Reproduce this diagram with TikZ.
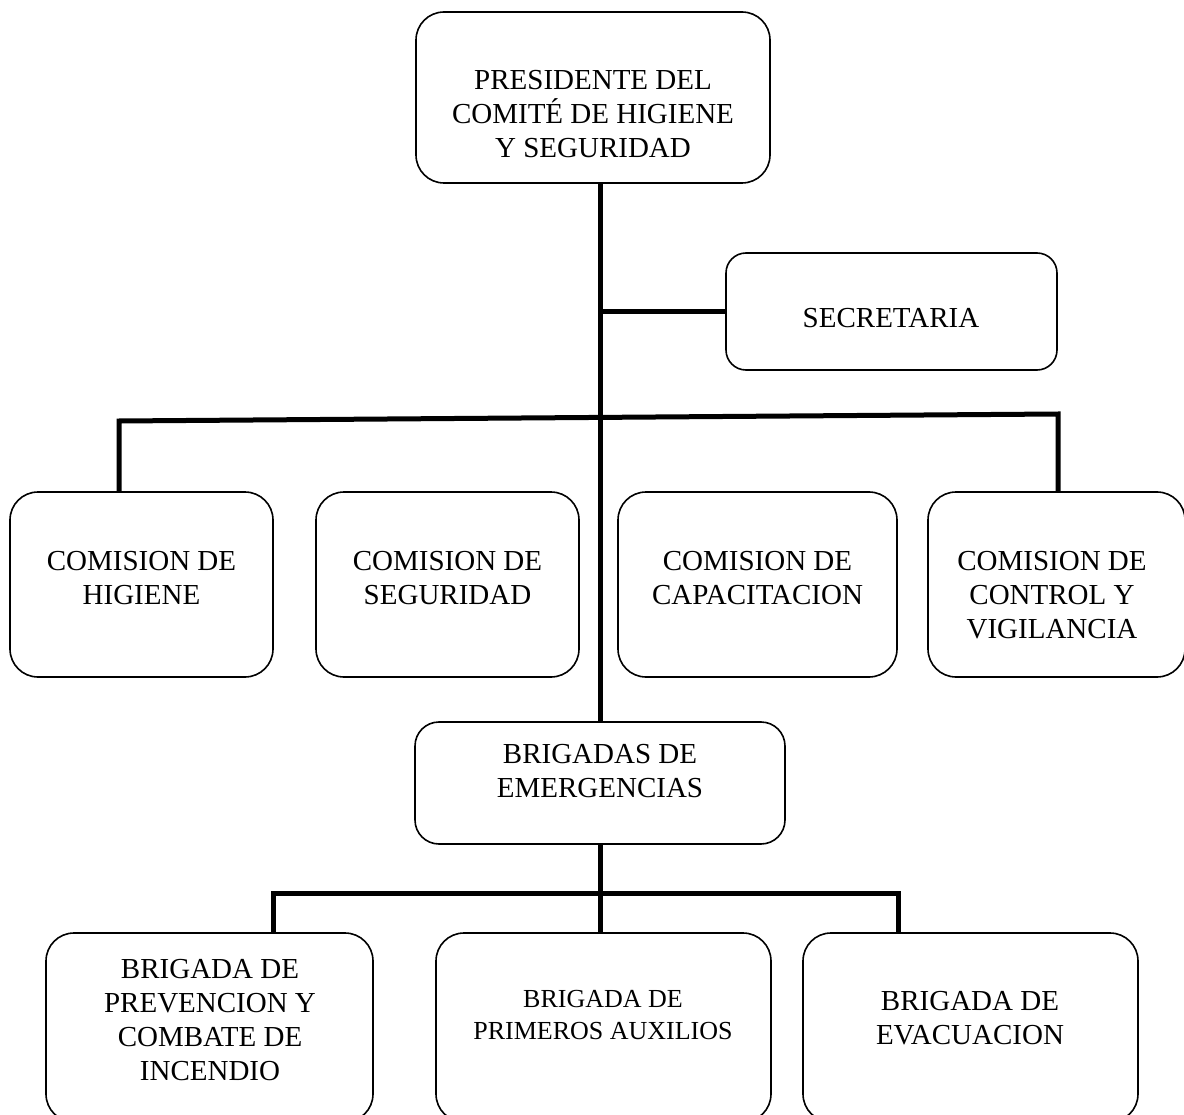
\documentclass[tikz,border=0pt]{standalone}
\usepackage{fontspec}
\setmainfont{Liberation Serif}
\begin{document}
\begin{tikzpicture}[x=1pt,y=-1pt,
  orgbox/.style={draw, line width=1.6pt, rounded corners=28pt, inner sep=0pt, fill=white},
  boxtext/.style={anchor=north, inner sep=0pt, align=center, font={\fontsize{29}{34}\selectfont}},
  smalltext/.style={anchor=north, inner sep=0pt, align=center, font={\fontsize{26}{32}\selectfont}},
  conn/.style={line width=5pt, line join=miter}]
\useasboundingbox[fill=white] (0,0) rectangle (1184,1115);

% boxes
\node[orgbox, minimum width=354pt, minimum height=171pt] (pres) at (593,97.5) {};
\node[orgbox, rounded corners=20pt, minimum width=331pt, minimum height=117pt] (sec) at (891.5,311.5) {};
\node[orgbox, minimum width=263pt, minimum height=185pt] (c1) at (141.5,584.5) {};
\node[orgbox, minimum width=263pt, minimum height=185pt] (c2) at (447.5,584.5) {};
\node[orgbox, minimum width=279pt, minimum height=185pt] (c3) at (757.5,584.5) {};
\node[orgbox, minimum width=257pt, minimum height=185pt] (c4) at (1056.5,584.5) {};
\node[orgbox, rounded corners=24pt, minimum width=370pt, minimum height=122pt] (brig) at (600,783) {};
\node[orgbox, minimum width=327pt, minimum height=189pt] (b1) at (209.5,1027.5) {};
\node[orgbox, minimum width=335pt, minimum height=189pt] (b2) at (603.5,1027.5) {};
\node[orgbox, minimum width=335pt, minimum height=189pt] (b3) at (970.5,1027.5) {};

% texts
\node[boxtext] (tpres) at (593,70) {PRESIDENTE DEL\\COMITÉ DE HIGIENE\\Y SEGURIDAD};
\node[boxtext] (tsec) at (891,308) {SECRETARIA};
\node[boxtext] (tc1) at (141.5,551) {COMISION DE\\HIGIENE};
\node[boxtext] (tc2) at (447.5,551) {COMISION DE\\SEGURIDAD};
\node[boxtext] (tc3) at (757.5,551) {COMISION DE\\CAPACITACION};
\node[boxtext] (tc4) at (1052,551) {COMISION DE\\CONTROL Y\\VIGILANCIA};
\node[boxtext] (tbrig) at (600,744) {BRIGADAS DE\\EMERGENCIAS};
\node[boxtext] (tb1) at (210,959) {BRIGADA DE\\PREVENCION Y\\COMBATE DE\\INCENDIO};
\node[smalltext] (tb2) at (603,990) {BRIGADA DE\\PRIMEROS AUXILIOS};
\node[boxtext] (tb3) at (970,991) {BRIGADA DE\\EVACUACION};

% junction coordinates
\coordinate (j1) at (119,421);
\coordinate (j4) at (1058,414);
\coordinate (k1) at (273,893);
\coordinate (k3) at (898,893);

% connectors
\draw[conn] (pres.south -| brig.north) -- (brig.north);
\draw[conn] (sec.west) -- (sec.west -| brig.north);
\draw[conn] (c1.north -| j1) -- (j1) -- (j4) -- (c4.north -| j4);
\draw[conn] (brig.south) -- (brig.south |- k1);
\draw[conn] (b1.north -| k1) -- (k1) -- (k3) -- (b3.north -| k3);
\draw[conn] (brig.south |- k1) -- (b2.north -| brig.south);
\end{tikzpicture}
\end{document}
